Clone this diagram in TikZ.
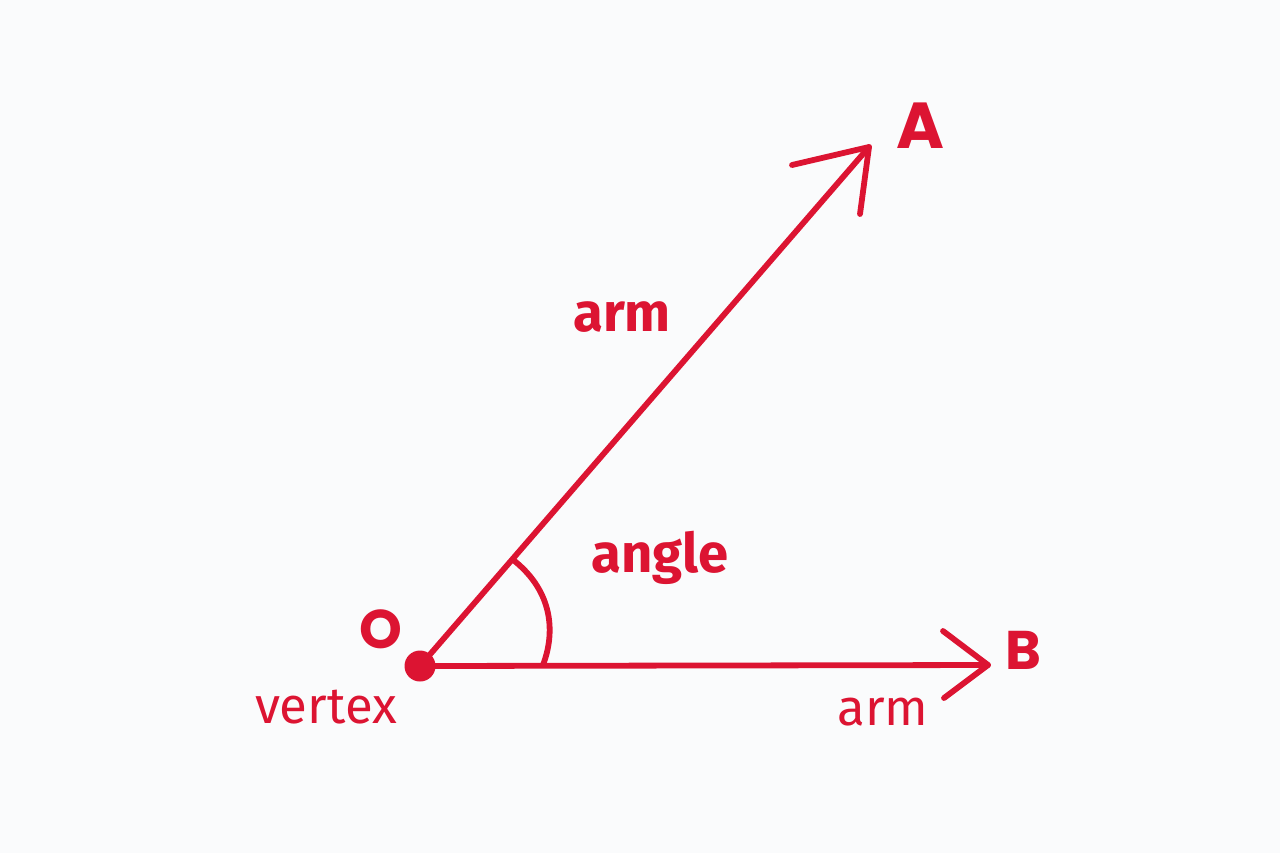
\documentclass[tikz,border=0pt]{standalone}
\usepackage{fontspec}
\setmainfont{Fira Sans}
\newfontfamily\letterfont{Poppins}
\definecolor{ink}{RGB}{220,20,50}
\definecolor{bg}{RGB}{250,251,252}
\tikzset{
  ray/.style={draw=ink, line width=3.3pt, line cap=round, line join=round},
  lblbold/.style={text=ink, font=\bfseries\fontsize{31}{31}\selectfont, anchor=base, inner sep=0pt},
  lblreg/.style={text=ink, font=\fontsize{29}{29}\selectfont, anchor=base, inner sep=0pt},
  letterbig/.style={text=ink, font=\letterfont\bfseries\fontsize{37}{37}\selectfont, anchor=base, inner sep=0pt},
  letter/.style={text=ink, font=\letterfont\bfseries\fontsize{31}{31}\selectfont, anchor=base, inner sep=0pt},
}
\begin{document}
\begin{tikzpicture}[x=0.02cm, y=-0.02cm]
  \fill[bg] (0,0) rectangle (1280,853);
  \useasboundingbox (0,0) rectangle (1280,853);
  % key points
  \coordinate (O) at (420,666);
  \coordinate (Atip) at (869,147);
  \coordinate (Aleft) at (792,165);
  \coordinate (Aright) at (860,214);
  \coordinate (Btip) at (988,665);
  \coordinate (Bup) at (943,631);
  \coordinate (Bdown) at (944,698);
  \coordinate (arcS) at (543,665);
  \coordinate (arcE) at (512,559);
  % arms
  \draw[ray] (O) -- (Atip);
  \draw[ray] (Aleft) -- (Atip) -- (Aright);
  \draw[ray] (O) -- (Btip);
  \draw[ray] (Bup) -- (Btip) -- (Bdown);
  % angle arc
  \draw[ray, line cap=butt] (arcS) .. controls (557,628) and (550,588) .. (arcE);
  % vertex dot
  \fill[ink] (O) circle (15.5);
  % labels
  \node[letterbig] (lA) at (920,148) {A};
  \node[letter] (lB) at (1023,669) {B};
  \node[letter] (lO) at (381,648) {O};
  \node[lblbold] (arm1) at (622,331) {arm};
  \node[lblbold] (ang) at (660,572) {angle};
  \node[lblreg] (vtx) at (326,723) {vertex};
  \node[lblreg] (arm2) at (883,725) {arm};
\end{tikzpicture}
\end{document}
